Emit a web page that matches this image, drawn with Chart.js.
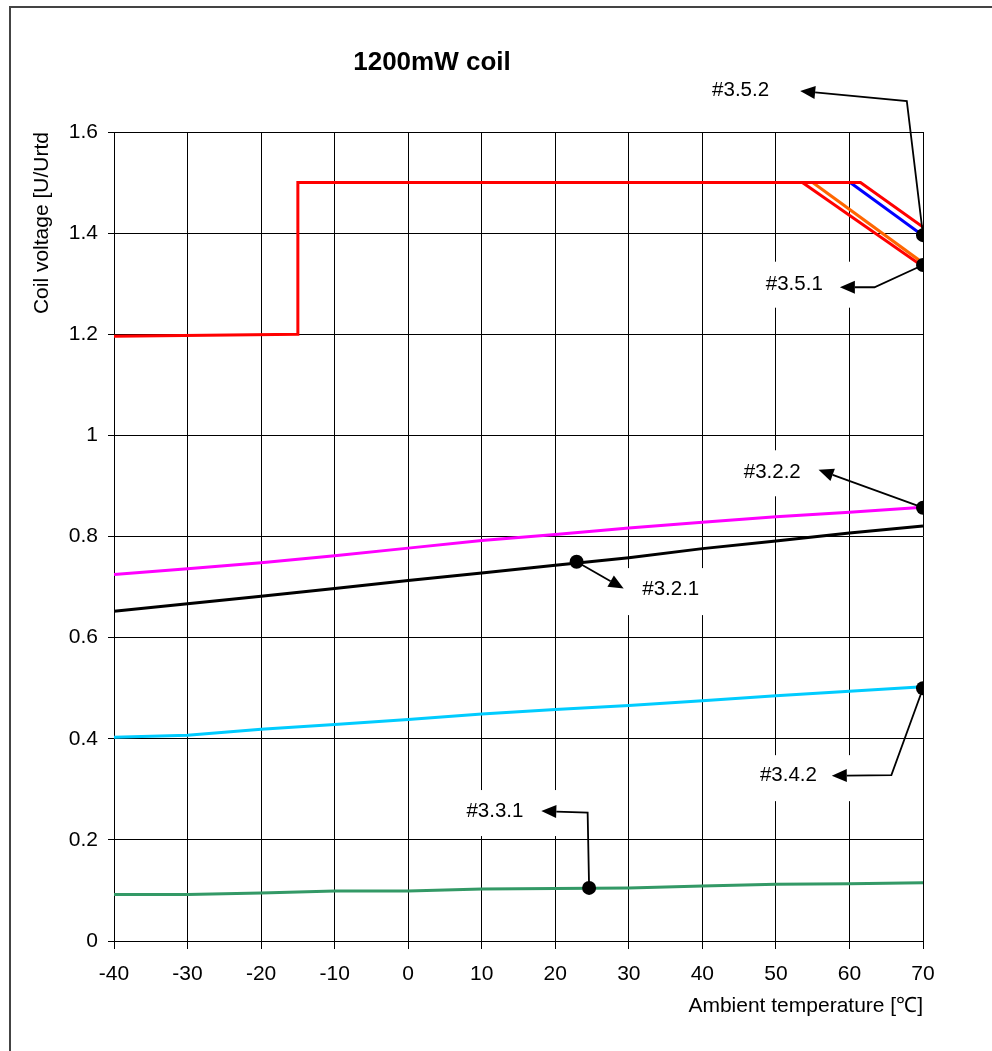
<!DOCTYPE html>
<html>
<head>
<meta charset="utf-8">
<title>1200mW coil</title>
<script src="https://cdn.jsdelivr.net/npm/chart.js@4.4.1/dist/chart.umd.min.js"></script>
<style>
  html, body { margin: 0; padding: 0; background: #fff; }
  canvas { display: block; }
</style>
</head>
<body>
<canvas id="grafico" width="992" height="1051"></canvas>
<script>
// ejes
const xTicks = [-40, -30, -20, -10, 0, 10, 20, 30, 40, 50, 60, 70];
const yTicks = [0, 0.2, 0.4, 0.6, 0.8, 1, 1.2, 1.4, 1.6];

// curvas suaves, una lectura cada 10 °C
const temps = [-40, -30, -20, -10, 0, 10, 20, 30, 40, 50, 60, 70];
const magenta = [0.725, 0.736, 0.748, 0.762, 0.777, 0.792, 0.804, 0.817, 0.828, 0.839, 0.848, 0.858];
const negro = [0.652, 0.667, 0.682, 0.697, 0.713, 0.728, 0.743, 0.758, 0.776, 0.791, 0.807, 0.821];
const cian = [0.403, 0.407, 0.419, 0.428, 0.438, 0.449, 0.458, 0.466, 0.475, 0.485, 0.494, 0.503];
const verde = [0.092, 0.092, 0.095, 0.099, 0.099, 0.103, 0.104, 0.105, 0.109, 0.112, 0.113, 0.115];

// tramos de la tension maxima
const rojoT = [-40, -15, -15, 61.5, 70];
const rojoV = [1.196, 1.2, 1.5, 1.5, 1.412];
const rojo2T = [53.6, 70];
const rojo2V = [1.5, 1.334];
const naranjaT = [55, 70];
const naranjaV = [1.5, 1.341];
const azulT = [60.1, 70];
const azulV = [1.5, 1.395];

// puntos marcados
const puntosT = [70, 70, 70, 22.9, 70, 24.6];
const puntosV = [1.396, 1.337, 0.857, 0.750, 0.500, 0.105];

// etiquetas con flecha (posiciones en unidades del grafico)
const etiquetas = [
  { text: "#3.5.2", at: [45.2, 1.683], via: [[67.8, 1.661]], tip: [53.3, 1.681], dot: 0, box: null },
  { text: "#3.5.1", at: [52.5, 1.298], via: [[63.4, 1.293]], tip: [58.7, 1.293], dot: 1, box: { dx: 13, dy: 0, w: 105, h: 46 } },
  { text: "#3.2.2", at: [49.5, 0.927], via: [], tip: [55.8, 0.932], dot: 2, box: { dx: 10, dy: 1, w: 105, h: 46 } },
  { text: "#3.2.1", at: [35.7, 0.695], via: [], tip: [29.3, 0.697], dot: 3, box: { dx: 8, dy: 2, w: 105, h: 47 } },
  { text: "#3.4.2", at: [51.7, 0.328], via: [[65.7, 0.328]], tip: [57.6, 0.327], dot: 4, box: { dx: 10, dy: 3, w: 105, h: 46 } },
  { text: "#3.3.1", at: [11.8, 0.257], via: [[24.4, 0.254]], tip: [18.1, 0.257], dot: 5, box: { dx: 13, dy: 2, w: 105, h: 46 } },
];

const xy = (xs, ys) => xs.map((x, i) => ({ x: x, y: ys[i] }));

const linea = (data, color, order) => ({
  data: data,
  showLine: true,
  borderColor: color,
  backgroundColor: color,
  borderWidth: 3,
  pointRadius: 0,
  tension: 0,
  borderJoinStyle: "miter",
  order: order,
});

const marco = {
  id: "marco",
  beforeDraw(chart) {
    const ctx = chart.ctx;
    ctx.save();
    ctx.fillStyle = "#fff";
    ctx.fillRect(0, 0, chart.width, chart.height);
    ctx.strokeStyle = "#444";
    ctx.lineWidth = 2;
    ctx.strokeRect(10, 7, chart.width + 20, chart.height + 20);
    ctx.restore();
  },
  beforeDatasetsDraw(chart) {
    // fondo blanco de las etiquetas, tapa la grilla
    const ctx = chart.ctx;
    const sx = chart.scales.x, sy = chart.scales.y;
    ctx.save();
    ctx.fillStyle = "#fff";
    etiquetas.forEach((e) => {
      if (!e.box) return;
      const cx = sx.getPixelForValue(e.at[0]) + e.box.dx;
      const cy = sy.getPixelForValue(e.at[1]) + e.box.dy;
      ctx.fillRect(cx - e.box.w / 2, cy - e.box.h / 2, e.box.w, e.box.h);
    });
    ctx.restore();
  },
  afterDatasetsDraw(chart) {
    const ctx = chart.ctx;
    const sx = chart.scales.x, sy = chart.scales.y;
    const px = (p) => [sx.getPixelForValue(p[0]), sy.getPixelForValue(p[1])];
    ctx.save();
    ctx.strokeStyle = "#000";
    ctx.fillStyle = "#000";
    ctx.lineWidth = 1.8;
    etiquetas.forEach((e) => {
      const pts = [px([puntosT[e.dot], puntosV[e.dot]])]
        .concat(e.via.map(px))
        .concat([px(e.tip)]);
      const n = pts.length;
      const a = Math.atan2(pts[n - 1][1] - pts[n - 2][1], pts[n - 1][0] - pts[n - 2][0]);
      const L = 15, W = 6.5;
      ctx.beginPath();
      ctx.moveTo(pts[0][0], pts[0][1]);
      for (let i = 1; i < n - 1; i++) ctx.lineTo(pts[i][0], pts[i][1]);
      ctx.lineTo(pts[n - 1][0] - L * Math.cos(a), pts[n - 1][1] - L * Math.sin(a));
      ctx.stroke();
      const [tx, ty] = pts[n - 1];
      ctx.beginPath();
      ctx.moveTo(tx, ty);
      ctx.lineTo(tx - L * Math.cos(a) + W * Math.sin(a), ty - L * Math.sin(a) - W * Math.cos(a));
      ctx.lineTo(tx - L * Math.cos(a) - W * Math.sin(a), ty - L * Math.sin(a) + W * Math.cos(a));
      ctx.closePath();
      ctx.fill();

      ctx.font = '20.5px "Liberation Sans", Arial, sans-serif';
      ctx.textAlign = "center";
      ctx.textBaseline = "middle";
      const [lx, ly] = px(e.at);
      ctx.fillText(e.text, lx, ly);
    });
    ctx.font = 'bold 26px "Liberation Sans", Arial, sans-serif';
    ctx.textAlign = "center";
    ctx.textBaseline = "middle";
    ctx.fillText("1200mW coil", 432, 63);
    ctx.restore();
  },
};

Chart.defaults.font.family = '"Liberation Sans", Arial, sans-serif';
Chart.defaults.font.size = 21;
Chart.defaults.color = "#000";

const ctx = document.getElementById("grafico").getContext("2d");
new Chart(ctx, {
  type: "scatter",
  data: {
    datasets: [
      {
        data: xy(puntosT, puntosV),
        pointRadius: 7,
        pointHoverRadius: 7,
        pointBackgroundColor: "#000",
        pointBorderColor: "#000",
        borderWidth: 0,
        order: 0,
      },
      linea(xy(rojoT, rojoV), "#ff0000", 1),
      linea(xy(rojo2T, rojo2V), "#ff0000", 1),
      linea(xy(azulT, azulV), "#0000ff", 2),
      linea(xy(naranjaT, naranjaV), "#ff6600", 2),
      linea(xy(temps, magenta), "#ff00ff", 3),
      linea(xy(temps, negro), "#000000", 3),
      linea(xy(temps, cian), "#00ccff", 3),
      linea(xy(temps, verde), "#339966", 3),
    ],
  },
  options: {
    responsive: false,
    animation: false,
    devicePixelRatio: 1,
    layout: { padding: { left: 20, top: 132, right: 69, bottom: 0 } },
    plugins: {
      legend: { display: false },
      tooltip: { enabled: false },
    },
    scales: {
      x: {
        type: "linear",
        min: -40,
        max: 70,
        afterBuildTicks: (s) => { s.ticks = xTicks.map((v) => ({ value: v })); },
        afterFit: (s) => { s.height = 110; },
        ticks: { padding: 13, maxRotation: 0 },
        grid: { color: "#000", lineWidth: 1, tickLength: 8 },
        border: { color: "#000", width: 1 },
        title: {
          display: true,
          text: "Ambient temperature [℃]",
          align: "end",
          padding: { top: 0, bottom: 32 },
        },
      },
      y: {
        min: 0,
        max: 1.6,
        afterBuildTicks: (s) => { s.ticks = yTicks.map((v) => ({ value: v })); },
        afterFit: (s) => { s.width = 94; },
        ticks: { padding: 10, callback: (v) => String(Math.round(v * 10) / 10) },
        grid: { color: "#000", lineWidth: 1, tickLength: 6 },
        border: { color: "#000", width: 1 },
        title: {
          display: true,
          text: "Coil voltage [U/Urtd",
          align: "end",
          padding: { top: 10, bottom: 0 },
        },
      },
    },
  },
  plugins: [marco],
});
</script>
</body>
</html>
